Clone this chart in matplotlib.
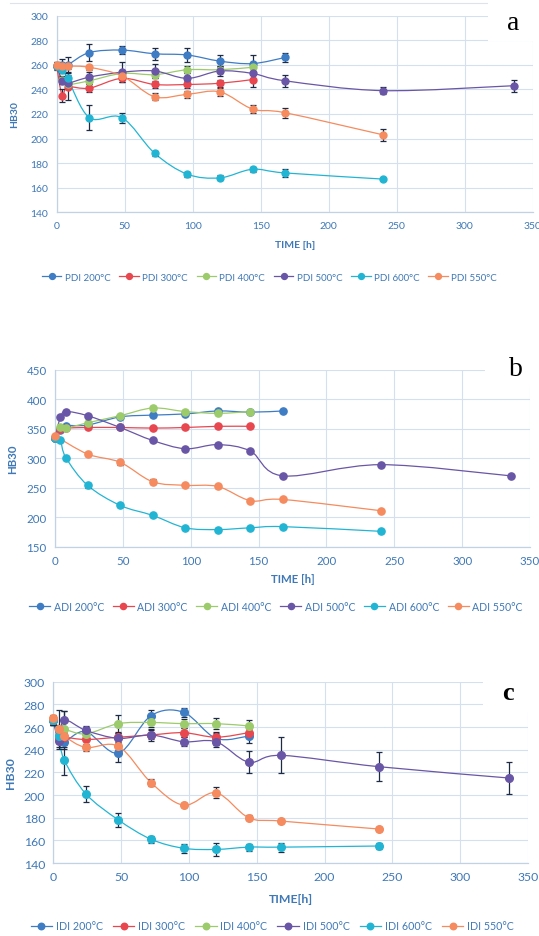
import matplotlib
matplotlib.use("Agg")
import matplotlib.pyplot as plt
from matplotlib.path import Path
from matplotlib.patches import PathPatch, Rectangle
from matplotlib.lines import Line2D
import numpy as np

# time axes (h)
t_144 = [0, 4, 8, 24, 48, 72, 96, 120, 144]
t_168 = t_144 + [168]
t_240 = t_168 + [240]
t_336 = t_240 + [336]
t_adi_550 = [0, 24, 48, 72, 96, 120, 144, 168, 240]

temps = ["200°C", "300°C", "400°C", "500°C", "600°C", "550°C"]
colors = ["#3E7CC4", "#E8474F", "#9CCB6B", "#6956A6", "#22B5D3", "#F58B5E"]

# panel a - PDI
pdi_200 = [259, 260, 260, 270, 272, 269, 268, 263, 261, 266]
pdi_200_err = [3, 5, 6, 7, 3, 5, 6, 5, 7, 4]
pdi_300 = [259, 235, 242, 241, 249, 244, 244, 245, 248]
pdi_300_err = [2, 5, 11, 3, 3, 3, 3, 3, 6]
pdi_400 = [259, 248, 244, 247, 253, 252, 256, 256, 258]
pdi_400_err = [2, 3, 3, 3, 3, 3, 3, 3, 4]
pdi_500 = [259, 247, 245, 250, 254, 255, 249, 255, 253, 247, 239, 243]
pdi_500_err = [2, 3, 4, 4, 8, 6, 4, 4, 5, 5, 3, 5]
pdi_600 = [259, 256, 249, 217, 217, 188, 171, 168, 175, 172, 167]
pdi_600_err = [2, 3, 3, 10, 4, 2, 2, 2, 2, 3, 1]
pdi_550 = [260, 259, 259, 258, 251, 234, 236, 238, 224, 221, 203]
pdi_550_err = [2, 2, 2, 2, 2, 3, 3, 3, 3, 4, 5]

# panel b - ADI
adi_200 = [335, 347, 355, 356, 370, 373, 375, 380, 378, 380]
adi_200_err = [2, 2, 2, 2, 2, 3, 2, 2, 2, 2]
adi_300 = [335, 350, 351, 352, 352, 351, 352, 354, 354]
adi_300_err = [2, 2, 2, 2, 2, 2, 2, 2, 2]
adi_400 = [335, 352, 351, 360, 372, 385, 379, 376, 379]
adi_400_err = [2, 2, 2, 2, 2, 3, 2, 2, 2]
adi_500 = [335, 369, 379, 372, 352, 330, 316, 323, 312, 270, 289, 270]
adi_500_err = [2, 2, 2, 2, 2, 2, 2, 2, 2, 2, 2, 2]
adi_600 = [335, 330, 301, 254, 220, 203, 182, 179, 182, 184, 176]
adi_600_err = [2, 2, 2, 4, 2, 2, 2, 2, 2, 2, 2]
adi_550 = [338, 307, 293, 260, 254, 252, 228, 230, 211]
adi_550_err = [2, 3, 4, 4, 2, 2, 2, 2, 2]

# panel c - IDI
idi_200 = [266, 252, 247, 256, 237, 270, 273, 250, 252]
idi_200_err = [4, 6, 6, 4, 8, 5, 4, 6, 6]
idi_300 = [266, 250, 251, 249, 251, 253, 255, 251, 255]
idi_300_err = [4, 4, 4, 4, 4, 4, 4, 4, 4]
idi_400 = [266, 258, 258, 254, 263, 264, 263, 263, 261]
idi_400_err = [4, 17, 16, 4, 8, 4, 4, 5, 5]
idi_500 = [266, 248, 266, 257, 250, 253, 247, 247, 229, 235, 225, 215]
idi_500_err = [4, 6, 8, 4, 6, 5, 4, 5, 10, 16, 13, 14]
idi_600 = [266, 252, 231, 201, 178, 161, 153, 152, 154, 154, 155]
idi_600_err = [3, 6, 13, 7, 6, 3, 4, 6, 3, 4, 3]
idi_550 = [268, 258, 252, 242, 243, 211, 191, 202, 180, 177, 170]
idi_550_err = [3, 4, 4, 3, 3, 3, 2, 5, 2, 2, 2]

TICK_C = "#3E78B6"
GRID_C = "#D5E0EE"
ERR_C = "#1E2B45"

plt.rcParams["font.family"] = ["Lato", "DejaVu Sans"]


def smooth_path(x, y):
    # Excel-like smoothed line: Catmull-Rom converted to cubic Bezier
    p = np.column_stack([x, y]).astype(float)
    n = len(p)
    verts = [p[0]]
    codes = [Path.MOVETO]
    for i in range(n - 1):
        p0 = p[i - 1] if i > 0 else p[i]
        p3 = p[i + 2] if i + 2 < n else p[i + 1]
        c1 = p[i] + (p[i + 1] - p0) / 6.0
        c2 = p[i + 1] - (p3 - p[i]) / 6.0
        verts += [c1, c2, p[i + 1]]
        codes += [Path.CURVE4] * 3
    return Path(verts, codes)


def draw_panel(ax, series, ylim, ystep, fs, ms, prefix, xlab, xlab_y):
    for (t, v, e), c in zip(series, colors):
        ax.add_patch(PathPatch(smooth_path(t, v), fill=False, edgecolor=c,
                               lw=0.9, zorder=3, clip_on=False))
        ax.errorbar(t, v, yerr=e, fmt="none", ecolor=ERR_C, elinewidth=0.9,
                    capsize=2.2, capthick=0.9, zorder=4, clip_on=False)
        ax.plot(t, v, "o", color=c, ms=ms, mec=c, zorder=5, clip_on=False)
    ax.set_xlim(0, 350)
    ax.set_ylim(*ylim)
    ax.set_xticks(range(0, 351, 50))
    ax.set_yticks(range(ylim[0], ylim[1] + 1, ystep))
    ax.grid(True, color=GRID_C, lw=0.8)
    ax.set_axisbelow(True)
    for s in ["top", "right"]:
        ax.spines[s].set_visible(False)
    for s in ["left", "bottom"]:
        ax.spines[s].set_color("#C3D1E4")
        ax.spines[s].set_linewidth(0.9)
    ax.tick_params(length=0, labelsize=fs, labelcolor=TICK_C, pad=6)
    ax.set_ylabel("HB30", fontsize=fs, fontweight="bold", color=TICK_C)
    ax.yaxis.set_label_coords(-0.078, 0.5)
    ax.set_xlabel(xlab, fontsize=fs, fontweight="bold", color=TICK_C)
    ax.xaxis.label.set_va("center")
    ax.xaxis.set_label_coords(0.5, -xlab_y)
    handles = [Line2D([], [], color=c, marker="o", ms=ms * 0.85, lw=0.9)
               for c in colors]
    labels = [prefix + " " + tp for tp in temps]
    return handles, labels


def add_legend(h, l, x, y, fs, cs):
    fig.legend(h, l, loc="center", bbox_to_anchor=(x, y), ncol=6, frameon=False,
               fontsize=fs, labelcolor=TICK_C, handlelength=2.0,
               handletextpad=0.35, columnspacing=cs, borderpad=0.1)


fig = plt.figure(figsize=(5.39, 9.37), dpi=100)

ax_a = fig.add_axes([0.1052, 0.7724, 0.8831, 0.2098])
ax_b = fig.add_axes([0.1020, 0.4155, 0.8813, 0.1889])
ax_c = fig.add_axes([0.0989, 0.0779, 0.8807, 0.1935])

ser_a = [(t_168, pdi_200, pdi_200_err), (t_144, pdi_300, pdi_300_err),
         (t_144, pdi_400, pdi_400_err), (t_336, pdi_500, pdi_500_err),
         (t_240, pdi_600, pdi_600_err), (t_240, pdi_550, pdi_550_err)]
ser_b = [(t_168, adi_200, adi_200_err), (t_144, adi_300, adi_300_err),
         (t_144, adi_400, adi_400_err), (t_336, adi_500, adi_500_err),
         (t_240, adi_600, adi_600_err), (t_adi_550, adi_550, adi_550_err)]
ser_c = [(t_144, idi_200, idi_200_err), (t_144, idi_300, idi_300_err),
         (t_144, idi_400, idi_400_err), (t_336, idi_500, idi_500_err),
         (t_240, idi_600, idi_600_err), (t_240, idi_550, idi_550_err)]

h, l = draw_panel(ax_a, ser_a, (140, 300), 20, 7.5, 5.0, "PDI", "TIME [h]", 0.165)
add_legend(h, l, 0.5, 0.7033, 7.0, 0.9)

h, l = draw_panel(ax_b, ser_b, (150, 450), 50, 8.3, 5.2, "ADI", "TIME [h]", 0.182)
add_legend(h, l, 0.512, 0.352, 7.6, 0.8)

h, l = draw_panel(ax_c, ser_c, (140, 300), 20, 8.8, 5.5, "IDI", "TIME[h]", 0.193)
add_legend(h, l, 0.505, 0.0107, 7.7, 0.95)

# white label boxes in the upper right corner of each panel
for (x0, y0, x1, y1) in [(488, 0, 539, 42), (485, 320, 539, 388), (483, 680, 532, 712)]:
    fig.patches.append(Rectangle((x0 / 539, 1 - y1 / 937), (x1 - x0) / 539,
                                 (y1 - y0) / 937, transform=fig.transFigure,
                                 facecolor="white", edgecolor="none", zorder=10))

fig.add_artist(Line2D([10 / 539, 488 / 539], [1 - 3.5 / 937, 1 - 3.5 / 937],
                      color="#DCE3EC", lw=0.8))

fig.text(513 / 539, 1 - 24 / 937, "a", family="Liberation Serif", fontsize=20,
         ha="center", va="center", zorder=11)
fig.text(516 / 539, 1 - 369 / 937, "b", family="Liberation Serif", fontsize=20,
         ha="center", va="center", zorder=11)
fig.text(508 / 539, 1 - 694 / 937, "c", family="Liberation Serif", fontsize=19,
         fontweight="bold", ha="center", va="center", zorder=11)

fig.savefig("out.png", dpi=100)
